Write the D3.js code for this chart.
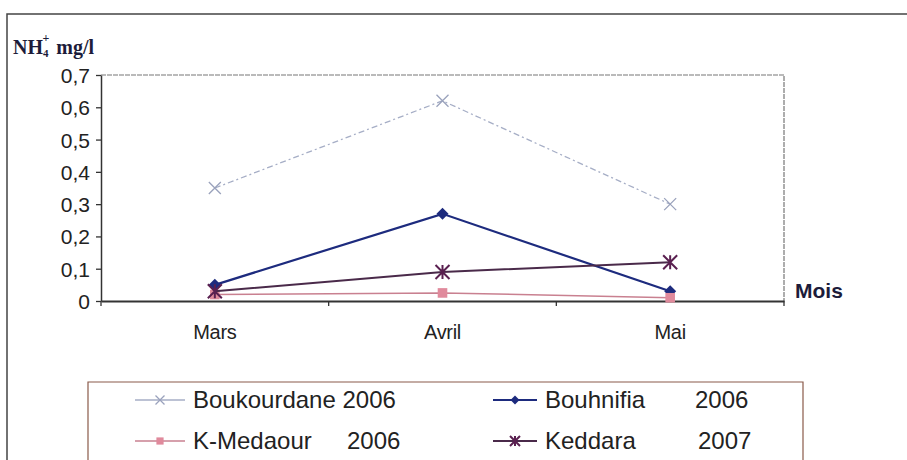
<!DOCTYPE html>
<html><head><meta charset="utf-8">
<script src="https://cdn.jsdelivr.net/npm/d3@7"></script>
<style>
body{margin:0;background:#fff;}
svg{display:block;}
</style></head>
<body>
<svg id="c" width="907" height="460"></svg>
<script>
const months = ["Mars", "Avril", "Mai"];
const yTicks = [0, 0.1, 0.2, 0.3, 0.4, 0.5, 0.6, 0.7];
const seriesNames = ["Boukourdane 2006", "Bouhnifia 2006", "K-Medaour 2006", "Keddara 2007"];
const boukourdane = [0.35, 0.62, 0.30];
const bouhnifia = [0.05, 0.27, 0.03];
const kMedaour = [0.02, 0.025, 0.01];
const keddara = [0.03, 0.09, 0.12];

const series = [
  {name: "Boukourdane", year: "2006", values: boukourdane, color: "#a6aec6", marker: "x", width: 1.3, dash: "6,3,2,3", mcolor: "#9aa2bc"},
  {name: "Bouhnifia", year: "2006", values: bouhnifia, color: "#1d2b7e", marker: "diamond", width: 2.2, dash: null, mcolor: "#1d2b7e"},
  {name: "K-Medaour", year: "2006", values: kMedaour, color: "#c98090", marker: "square", width: 1.5, dash: null, mcolor: "#e08a9c"},
  {name: "Keddara", year: "2007", values: keddara, color: "#4a2a4a", marker: "star", width: 2, dash: null, mcolor: "#5a2050"}
];

const svg = d3.select("#c");
const font = "'Liberation Sans', Arial, sans-serif";

// outer frame
svg.append("path").attr("d", "M7,460 V14 H907").attr("fill", "none").attr("stroke", "#444").attr("stroke-width", 1.5);

const x = d3.scaleBand().domain(months).range([101, 784]).padding(0);
const y = d3.scaleLinear().domain([0, 0.7]).range([301, 75]);

// plot border (top & right)
svg.append("path").attr("d", `M101,${y(0.7)} H784 V${y(0)}`).attr("fill", "none")
  .attr("stroke", "#777").attr("stroke-width", 1.2).attr("stroke-dasharray", "5,1");

// y axis
const yAxis = svg.append("g").attr("transform", "translate(101,0)")
  .call(d3.axisLeft(y).tickValues(yTicks).tickSize(5).tickSizeOuter(0)
    .tickFormat(d => d3.format(".1f")(d).replace(".", ",").replace(/^0,0$/, "0")));
yAxis.select(".domain").attr("stroke", "#333").attr("stroke-width", 1.5);
yAxis.selectAll(".tick line").attr("stroke", "#333").attr("stroke-width", 1.3);
yAxis.selectAll(".tick text").attr("font-family", font).attr("font-size", 21).attr("fill", "#222").attr("dx", -3).attr("dy", "0.36em");

// x axis
const xAxis = svg.append("g").attr("transform", `translate(0,${y(0)})`)
  .call(d3.axisBottom(x).tickSize(0).tickSizeOuter(0));
xAxis.select(".domain").attr("stroke", "#333").attr("stroke-width", 1.8);
xAxis.selectAll(".tick text").attr("font-family", font).attr("font-size", 20).attr("fill", "#222")
  .attr("y", 38).attr("dy", 0).attr("letter-spacing", "-0.3");
// tick marks between categories
const bounds = months.map(m => x(m)).concat([x.range()[1]]);
svg.append("g").selectAll("line").data(bounds).join("line")
  .attr("x1", d => d).attr("x2", d => d).attr("y1", y(0)).attr("y2", y(0) + 5)
  .attr("stroke", "#333").attr("stroke-width", 1.3);

// axis titles
const yt = svg.append("text").attr("x", 13).attr("y", 54).attr("font-family", "'Liberation Serif', 'Times New Roman', serif")
  .attr("font-weight", "bold").attr("font-size", 20).attr("fill", "#1c1c3a");
yt.append("tspan").text("NH");
yt.append("tspan").attr("font-size", 11).attr("dy", 3).text("4");
yt.append("tspan").attr("font-size", 12).attr("dx", -6).attr("dy", -15).text("+");
yt.append("tspan").attr("dx", 2).attr("dy", 12).text(" mg/l");

svg.append("text").attr("x", 795).attr("y", 298).attr("font-family", font).attr("font-weight", "bold")
  .attr("font-size", 21).attr("fill", "#1c1c3a").text("Mois");

function drawMarker(g, type, cx, cy, color, s) {
  if (type === "x") {
    g.append("path").attr("d", `M${cx-s},${cy-s}L${cx+s},${cy+s}M${cx-s},${cy+s}L${cx+s},${cy-s}`)
      .attr("stroke", color).attr("stroke-width", 1.3).attr("fill", "none");
  } else if (type === "diamond") {
    g.append("path").attr("d", `M${cx},${cy-s}L${cx+s},${cy}L${cx},${cy+s}L${cx-s},${cy}Z`).attr("fill", color);
  } else if (type === "square") {
    g.append("rect").attr("x", cx - s*0.8).attr("y", cy - s*0.8).attr("width", s*1.6).attr("height", s*1.6).attr("fill", color);
  } else if (type === "star") {
    g.append("path").attr("d", `M${cx-s},${cy-s}L${cx+s},${cy+s}M${cx-s},${cy+s}L${cx+s},${cy-s}M${cx},${cy-s}L${cx},${cy+s}`)
      .attr("stroke", color).attr("stroke-width", 2).attr("fill", "none");
  }
}

const line = d3.line().x((d, i) => x(months[i]) + x.bandwidth() / 2).y(d => y(d));
series.forEach(s => {
  const g = svg.append("g");
  g.append("path").attr("d", line(s.values)).attr("fill", "none").attr("stroke", s.color)
    .attr("stroke-width", s.width).attr("stroke-dasharray", s.dash);
  s.values.forEach((v, i) => drawMarker(g, s.marker, x(months[i]) + x.bandwidth() / 2, y(v), s.mcolor, s.marker === "star" ? 7 : 6));
});

// legend
svg.append("path").attr("d", "M88,460 V382 H803 V460").attr("fill", "none").attr("stroke", "#8a5a4a").attr("stroke-width", 1.2);
const legPos = [[135, 400], [493, 400], [135, 441], [493, 441]];
const yearX = [null, 695, 347, 698];
series.forEach((s, i) => {
  const [lx, ly] = legPos[i];
  const g = svg.append("g");
  const w = i % 2 === 0 ? 50 : 44;
  g.append("line").attr("x1", lx).attr("x2", lx + w).attr("y1", ly).attr("y2", ly)
    .attr("stroke", s.color).attr("stroke-width", s.width > 1.6 ? 1.8 : 1.3);
  drawMarker(g, s.marker, lx + w / 2, ly, s.mcolor, s.marker === "star" ? 5 : 4.5);
  const tx = lx + w + 8;
  const fs = 24;
  if (i === 0) {
    g.append("text").attr("x", tx).attr("y", ly + 8).attr("font-family", font).attr("font-size", fs).attr("fill", "#222").text(s.name + " " + s.year);
  } else {
    g.append("text").attr("x", tx).attr("y", ly + 8).attr("font-family", font).attr("font-size", fs).attr("fill", "#222").text(s.name);
    g.append("text").attr("x", yearX[i]).attr("y", ly + 8).attr("font-family", font).attr("font-size", fs).attr("fill", "#222").text(s.year);
  }
});
</script>
</body></html>
